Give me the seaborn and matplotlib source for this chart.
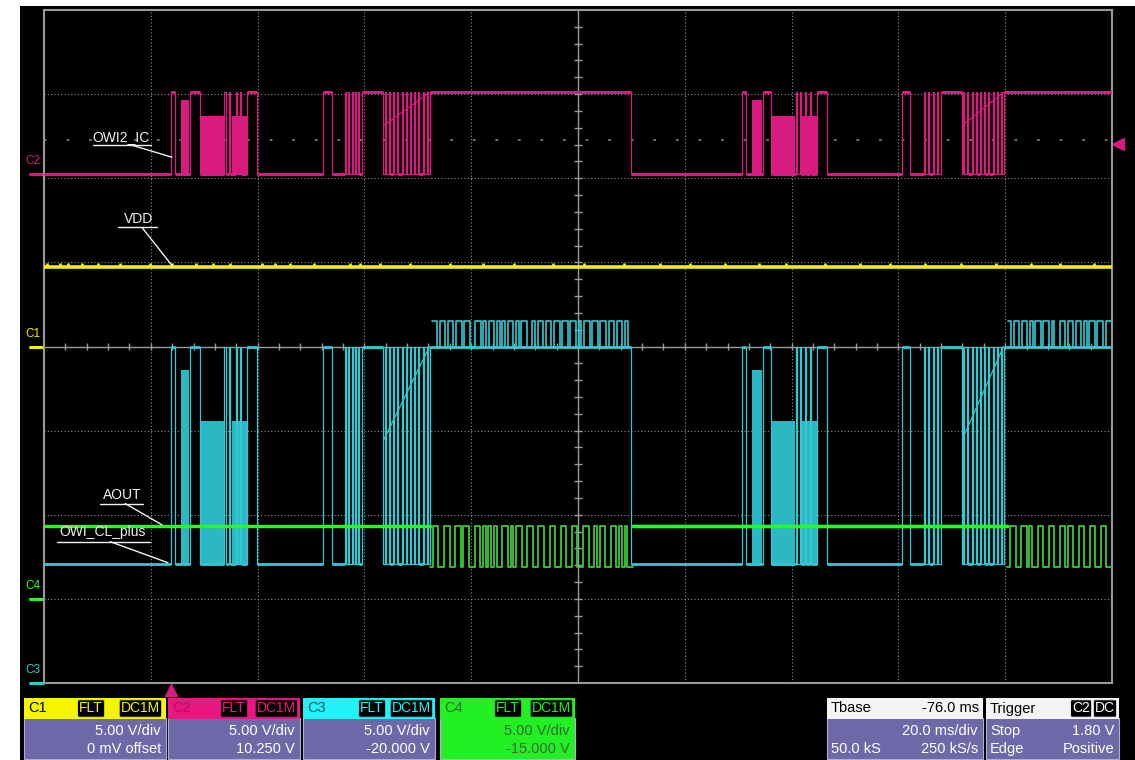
import matplotlib
matplotlib.use("Agg")

import matplotlib.pyplot as plt
from matplotlib.patches import Rectangle
from matplotlib.transforms import blended_transform_factory
import numpy as np
import seaborn as sns

import warnings
warnings.filterwarnings('ignore')

# Screen: 10 div x 20 ms/div, 8 div vertical (time in ms from left edge)
screen_ms = 200.0
ms_per_div = 20.0

# Channel settings as read in the boxes (V/div, offset in V)
ch_vdiv = {'C1': 5.0, 'C2': 5.0, 'C3': 5.0, 'C4': 5.0}
ch_offset = {'C1': 0.0, 'C2': 10.25, 'C3': -20.0, 'C4': -15.0}
trigger_level = 1.80   # V on C2
trigger_time = 23.8    # ms

# Edges of the OWI bus (both OWI lines switch together), line starts low
bus_edges = [23.7, 24.5, 27.4, 29.2,
             33.7, 34.0, 34.6, 34.9, 36.0, 36.2, 36.7, 36.9,
             38.0, 39.9, 52.2, 53.9,
             56.4, 56.6, 57.0, 57.2, 57.7, 57.9, 58.3, 58.5, 58.8, 59.0,
             59.6, 63.5,
             63.9, 64.1, 64.6, 64.8, 65.4, 65.6, 66.1, 66.3, 67.0, 67.2, 67.8,
             68.0, 68.5, 68.7, 69.3, 69.5, 70.0, 70.2, 71.0, 71.2, 71.7, 71.9,
             72.3, 109.9,
             130.8, 131.5, 134.6, 136.1,
             140.8, 141.0, 141.6, 141.8, 142.5, 142.7, 143.4, 143.6,
             144.8, 146.6, 160.6, 162.2,
             164.8, 165.0, 165.5, 165.7, 166.5, 166.7, 167.2, 167.4,
             167.9, 171.9,
             172.1, 172.3, 172.9, 173.1, 173.8, 174.0, 174.5, 174.7, 175.3, 175.5,
             176.0, 176.2, 176.8, 177.0, 177.7, 177.9, 178.5, 178.7, 179.2, 179.4,
             179.8]

# Dense bursts (too fast to resolve on screen)
burst_start = [25.7, 29.4, 35.2, 132.6, 136.3, 141.9]
burst_end = [27.2, 33.7, 38.0, 134.5, 140.7, 144.8]
burst_kind = ['full', 'mid', 'mid', 'full', 'mid', 'mid']

# Slow ramps inside the second pulse group of each frame
ramp_start = [63.7, 172.0]
ramp_end = [72.2, 179.7]

# Data frames on OWI_CL_plus (top) and AOUT
c3_frame_start = [72.6, 180.6]
c3_frame_end = [109.8, 199.8]
c3_bits = ["1101101101101100110101101010110101100101101101101101101011011011011011010",
           "10110110101101101001101101101011011011"]
c4_frame_start = [72.3, 180.4]
c4_frame_end = [110.3, 200.0]
c4_bits = ["0110011001101100110101010011010110011001100110011001100110010110011010100",
           "01100110100110011001101100110011001100"]

# Small glitches on VDD
vdd_glitch = [0.6, 3.0, 4.5, 7.1, 10.1, 14.2, 19.8, 24.0, 28.5, 31.7, 34.8, 40.8,
              43.3, 46.0, 50.6, 57.3, 59.2, 62.9, 68.5, 76.0, 82.3, 88.0, 95.4,
              101.2, 108.7, 115.3, 121.0, 127.5, 133.9, 139.0, 146.2, 152.8,
              158.4, 165.0, 171.7, 178.3, 184.9, 190.2, 196.6]

# Levels in volts
vdd_level = 4.75
c2_low, c2_high, c2_full, c2_mid = 0.0, 4.85, 4.4, 3.45
c2_ramp = [2.9, 4.85]
c3_low, c3_high, c3_top, c3_full, c3_mid = 7.1, 20.0, 21.5, 18.6, 15.6
c3_ramp = [14.5, 20.0]
c4_level, c4_low = 4.35, 1.9

col_c1 = '#f2f200'
col_c2 = '#d81b7f'
col_c3 = '#35c8d2'
col_c3_fill = '#2bb8c2'
col_c4 = '#22ff22'
col_c4_data = '#3cc83c'
grid_col = '#8c8c8c'


def to_div(ch, v):
    return (v + ch_offset[ch]) / ch_vdiv[ch]


def bus_steps(low, high):
    t = [0.0]
    v = [low]
    level = low
    for e in bus_edges:
        level = high if level == low else low
        t.append(e)
        v.append(level)
    t.append(screen_ms)
    v.append(level)
    return t, v


def bit_steps(t0, t1, bits, one, zero):
    w = (t1 - t0) / len(bits)
    t = [t0 + i * w for i in range(len(bits))] + [t1]
    v = [one if b == '1' else zero for b in bits]
    v.append(v[-1])
    return t, v


def thick_flats(ax, t, v, color, lw, zorder):
    # long flat parts look heavier on the scope (noise), edges stay thin
    xs0, xs1, ys = [], [], []
    for i in range(len(t) - 1):
        if t[i + 1] - t[i] > 0.6:
            xs0.append(t[i])
            xs1.append(t[i + 1])
            ys.append(v[i])
    ax.hlines(ys, xs0, xs1, color=color, lw=lw, zorder=zorder)


W, H = 1135, 760
fig = plt.figure(figsize=(W / 100, H / 100), dpi=100)
sns.set_theme(style='dark')
plt.rcParams['font.family'] = ['Liberation Sans', 'DejaVu Sans']
fig.patch.set_facecolor('white')
fig.add_artist(Rectangle((20 / W, 0), (W - 20) / W, (H - 6) / H, transform=fig.transFigure,
                         facecolor='black', edgecolor='none', zorder=-5))

ax = fig.add_axes([44 / W, (H - 683) / H, 1068 / W, 673 / H])
ax.set_facecolor('black')
ax.set_xlim(0, screen_ms)
ax.set_ylim(-4, 4)
ax.set_xticks(np.arange(0, screen_ms + 1, ms_per_div))
ax.set_yticks(np.arange(-4, 5, 1))
ax.tick_params(length=0, labelbottom=False, labelleft=False)
ax.grid(True, color=grid_col, linestyle=(0, (1, 2)), linewidth=0.8)
for s in ax.spines.values():
    s.set_color('#9a9a9a')
    s.set_linewidth(1.5)

# centre cross with small ticks
ax.axhline(0, color='#9a9a9a', lw=1.0, zorder=1)
ax.axvline(screen_ms / 2, color='#9a9a9a', lw=1.0, zorder=1)
ax.vlines(np.arange(4, screen_ms, 4), -0.045, 0.045, color='#9a9a9a', lw=1.0, zorder=1)
ax.hlines(np.arange(-3.8, 4.0, 0.2), 99.3, 100.7, color='#9a9a9a', lw=1.0, zorder=1)

# trigger level reference dots
trig_div = to_div('C2', trigger_level)
ax.axhline(trig_div + 0.05, color='#7a7a7a', linestyle=(0, (1.5, 11)), lw=1.3, zorder=1)

# ---- C2 : OWI2_IC ----
t, v = bus_steps(to_div('C2', c2_low), to_div('C2', c2_high))
for t0, t1, k in zip(burst_start, burst_end, burst_kind):
    top = c2_full if k == 'full' else c2_mid
    ax.fill_between([t0, t1], to_div('C2', c2_low), to_div('C2', top), color=col_c2, lw=0, zorder=2)
sns.lineplot(x=t, y=v, drawstyle='steps-post', estimator=None, sort=False,
             color=col_c2, linewidth=0.9, ax=ax, zorder=3)
thick_flats(ax, t, v, col_c2, 2.2, 3)
for t0, t1 in zip(ramp_start, ramp_end):
    sns.lineplot(x=[t0, t1], y=[to_div('C2', c2_ramp[0]), to_div('C2', c2_ramp[1])],
                 estimator=None, sort=False, color=col_c2, linewidth=0.9, ax=ax, zorder=3)

# ---- C1 : VDD ----
sns.lineplot(x=[0, screen_ms], y=[to_div('C1', vdd_level)] * 2, estimator=None,
             color=col_c1, linewidth=2.6, ax=ax, zorder=3)
ax.vlines(vdd_glitch, to_div('C1', vdd_level), to_div('C1', vdd_level) + 0.045,
          color=col_c1, lw=2.0, zorder=3)

# ---- C3 : OWI_CL_plus ----
t, v = bus_steps(to_div('C3', c3_low), to_div('C3', c3_high))
for t0, t1, k in zip(burst_start, burst_end, burst_kind):
    top = c3_full if k == 'full' else c3_mid
    ax.fill_between([t0, t1], to_div('C3', c3_low), to_div('C3', top), color=col_c3_fill, lw=0, zorder=4)
sns.lineplot(x=t, y=v, drawstyle='steps-post', estimator=None, sort=False,
             color=col_c3, linewidth=0.9, ax=ax, zorder=5)
thick_flats(ax, t, v, col_c3, 2.0, 5)
for t0, t1 in zip(ramp_start, ramp_end):
    sns.lineplot(x=[t0, t1], y=[to_div('C3', c3_ramp[0]), to_div('C3', c3_ramp[1])],
                 estimator=None, sort=False, color=col_c3, linewidth=0.9, ax=ax, zorder=5)
for t0, t1, bits in zip(c3_frame_start, c3_frame_end, c3_bits):
    tt, vv = bit_steps(t0, t1, bits, to_div('C3', c3_top), to_div('C3', c3_high))
    sns.lineplot(x=tt, y=vv, drawstyle='steps-post', estimator=None, sort=False,
                 color=col_c3, linewidth=1.2, ax=ax, zorder=5)

# ---- C4 : AOUT ----
steady_t = [0.0] + [x for pair in zip(c4_frame_start, c4_frame_end) for x in pair]
for t0, t1 in zip(steady_t[::2], steady_t[1::2]):
    sns.lineplot(x=[t0, t1], y=[to_div('C4', c4_level)] * 2, estimator=None,
                 color=col_c4, linewidth=2.4, ax=ax, zorder=6)
sns.lineplot(x=[c4_frame_end[0], c4_frame_start[1]], y=[to_div('C4', c4_level)] * 2,
             estimator=None, color=col_c4, linewidth=2.4, ax=ax, zorder=6)
for t0, t1, bits in zip(c4_frame_start, c4_frame_end, c4_bits):
    tt, vv = bit_steps(t0, t1, bits, to_div('C4', c4_level), to_div('C4', c4_low))
    sns.lineplot(x=tt, y=vv, drawstyle='steps-post', estimator=None, sort=False,
                 color=col_c4_data, linewidth=1.3, ax=ax, zorder=6)

# ---- trace labels with leader lines ----
labels = [
    ('OWI2_IC', 14.5, 2.49, (9.2, 20.0, 2.40), (16.1, 2.40, 23.97, 2.25)),
    ('VDD', 17.7, 1.51, (13.9, 21.2, 1.415), (18.35, 1.415, 23.97, 0.963)),
    ('AOUT', 14.6, -1.76, (10.5, 18.5, -1.867), (15.2, -1.867, 22.1, -2.12)),
    ('OWI_CL_plus', 11.0, -2.21, (2.4, 19.9, -2.32), (12.4, -2.32, 23.2, -2.57)),
]
for txt, x, y, ul, ld in labels:
    ax.text(x, y, txt, color='#f0f0f0', fontsize=10, ha='center', va='center', zorder=8)
    ax.plot([ul[0], ul[1]], [ul[2], ul[2]], color='#f0f0f0', lw=1.0, zorder=8)
    ax.plot([ld[0], ld[2]], [ld[1], ld[3]], color='#f0f0f0', lw=1.0, zorder=8)

# ---- channel markers on the left ----
trans_l = blended_transform_factory(ax.transAxes, ax.transData)
for ch, col in [('C2', col_c2), ('C1', col_c1), ('C4', col_c4), ('C3', col_c3)]:
    y0 = ch_offset[ch] / ch_vdiv[ch]
    ax.plot([-0.013, -0.001], [y0, y0], color=col, lw=2.2, transform=trans_l, clip_on=False)
    ax.text(-0.0175, y0 + 0.15, ch, color=col, fontsize=8.5, ha='left', va='center',
            transform=trans_l, clip_on=False)

ax.plot([1.0058], [trig_div], marker='<', ms=8, color=col_c2, transform=trans_l, clip_on=False)
trans_b = blended_transform_factory(ax.transData, ax.transAxes)
ax.plot([trigger_time], [-0.011], marker='^', ms=8, color=col_c2, transform=trans_b, clip_on=False)


# ---- info boxes along the bottom ----
def fx(x):
    return x / W


def fy(y):
    return 1 - y / H


body_col = '#6e68a8'


def info_box(x0, x1, head_bg, head_txt, head_col, tags, tag_col, rows, body_bg=body_col,
             text_col='white', head_right=None):
    fig.add_artist(Rectangle((fx(x0), fy(759)), (x1 - x0) / W, 41 / H, transform=fig.transFigure,
                             facecolor=body_bg, edgecolor='#b0b0cc', lw=0.8))
    fig.add_artist(Rectangle((fx(x0), fy(719)), (x1 - x0) / W, 21 / H, transform=fig.transFigure,
                             facecolor=head_bg, edgecolor='none'))
    fig.text(fx(x0 + 4), fy(708.5), head_txt, color=head_col, fontsize=10.5, ha='left', va='center')
    if head_right:
        fig.text(fx(x1 - 4), fy(708.5), head_right, color='black', fontsize=10.5, ha='right', va='center')
    for txt, xr in tags:
        fig.text(fx(xr), fy(708.5), txt, color=tag_col, fontsize=10, ha='right', va='center',
                 bbox=dict(boxstyle='round,pad=0.12', fc='black', ec=tag_col, lw=0.6))
    for (left, right), yy in zip(rows, [731, 749]):
        if left:
            fig.text(fx(x0 + 4), fy(yy), left, color=text_col, fontsize=10.5, ha='left', va='center')
        if right:
            fig.text(fx(x1 - 5), fy(yy), right, color=text_col, fontsize=10.5, ha='right', va='center')


info_box(24, 166, '#f5f500', 'C1', 'black', [('FLT', 103), ('DC1M', 160)], '#f5f500',
         [('', '5.00 V/div'), ('', '0 mV offset')])
info_box(168, 300, '#ec1680', 'C2', '#a8105c', [('FLT', 246), ('DC1M', 296)], '#ec1680',
         [('', '5.00 V/div'), ('', '10.250 V')])
info_box(303, 435, '#22f2f8', 'C3', '#0a5a66', [('FLT', 384), ('DC1M', 431)], '#22f2f8',
         [('', '5.00 V/div'), ('', '-20.000 V')])
info_box(440, 575, '#22f022', 'C4', '#2b6b2b', [('FLT', 520), ('DC1M', 571)], '#22f022',
         [('', '5.00 V/div'), ('', '-15.000 V')], body_bg='#22f022', text_col='#336b33')
info_box(827, 983, '#f4f4f4', 'Tbase', 'black', [], 'white',
         [('', '20.0 ms/div'), ('50.0 kS', '250 kS/s')], head_right='-76.0 ms')
info_box(986, 1119, '#f4f4f4', 'Trigger', 'black', [('C2', 1090), ('DC', 1115)], 'white',
         [('Stop', '1.80 V'), ('Edge', 'Positive')])

fig.savefig('out.png', dpi=100, facecolor=fig.get_facecolor())
